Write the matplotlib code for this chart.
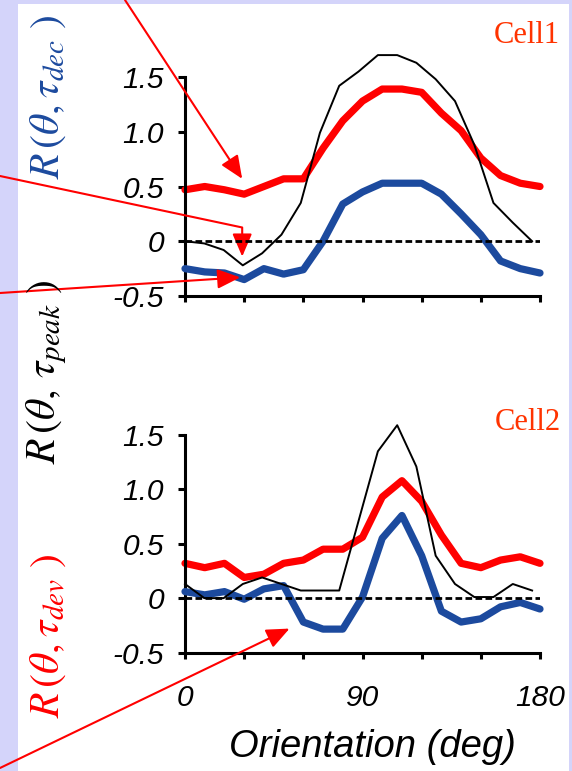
import matplotlib
matplotlib.use('Agg')
import matplotlib.pyplot as plt
from matplotlib.patches import Rectangle

# ---------------- data ----------------
orientation = [0, 10, 20, 30, 40, 50, 60, 70, 80, 90, 100, 110, 120, 130, 140, 150, 160, 170, 180]
# the thin black curve is drawn on a slightly compressed orientation grid
orientation_peak = [0, 9.8, 19.6, 29.3, 39.1, 48.9, 58.7, 68.4, 78.2, 88.0, 97.8,
                    107.6, 117.3, 127.1, 136.9, 146.7, 156.4, 166.2, 176.0]

cell1_dev = [0.47, 0.50, 0.47, 0.43, 0.50, 0.57, 0.57, 0.85, 1.10, 1.28, 1.39,
             1.39, 1.36, 1.17, 1.01, 0.76, 0.60, 0.53, 0.50]
cell1_dec = [-0.25, -0.28, -0.29, -0.35, -0.25, -0.30, -0.26, 0.00, 0.34, 0.45, 0.53,
             0.53, 0.53, 0.43, 0.25, 0.06, -0.18, -0.25, -0.29]
cell1_peak = [0.00, -0.02, -0.08, -0.22, -0.11, 0.06, 0.35, 0.99, 1.42, 1.55, 1.70,
              1.70, 1.63, 1.48, 1.28, 0.88, 0.35, 0.17, 0.00]

cell2_dev = [0.32, 0.28, 0.32, 0.19, 0.22, 0.32, 0.35, 0.45, 0.45, 0.56, 0.93,
             1.08, 0.89, 0.58, 0.32, 0.28, 0.35, 0.38, 0.32]
cell2_dec = [0.06, 0.03, 0.06, -0.01, 0.085, 0.115, -0.22, -0.285, -0.285, 0.01, 0.55,
             0.76, 0.39, -0.12, -0.22, -0.19, -0.08, -0.04, -0.10]
cell2_peak = [0.13, 0.00, 0.00, 0.13, 0.19, 0.13, 0.07, 0.07, 0.07, 0.71, 1.35,
              1.59, 1.21, 0.39, 0.13, 0.01, 0.01, 0.13, 0.07]

y_ticks = [-0.5, 0, 0.5, 1.0, 1.5]
y_tick_labels = ['-0.5', '0', '0.5', '1.0', '1.5']
x_ticks = [0, 30, 60, 90, 120, 150, 180]
x_tick_labels = ['0', '', '', '90', '', '', '180']
cell_names = ['Cell1', 'Cell2']

# ---------------- style ----------------
RED = '#ff0000'
BLUE = '#1c4a9e'
CELLCOL = '#ff3300'
BG = '#d4d4fa'

plt.rcParams['mathtext.fontset'] = 'stix'

W, H = 572, 771
fig = plt.figure(figsize=(W / 100, H / 100), dpi=100, facecolor=BG)
fig.patches.append(Rectangle((18 / W, 0), (569 - 18) / W, (H - 4) / H,
                             transform=fig.transFigure, facecolor='white',
                             edgecolor='none', zorder=-10))

ax1 = fig.add_axes([185 / W, (H - 296) / H, 355 / W, 219 / H])
ax2 = fig.add_axes([185 / W, (H - 652.5) / H, 355 / W, 217.5 / H])

tick_font = dict(family='Liberation Sans', style='italic', size=21.5)

panels = [(ax1, cell1_dev, cell1_dec, cell1_peak),
          (ax2, cell2_dev, cell2_dec, cell2_peak)]
for ax, dev, dec, peak in panels:
    ax.set_facecolor('none')
    ax.plot(orientation, dev, color=RED, lw=5.2, solid_capstyle='round',
            solid_joinstyle='round', clip_on=False, zorder=2)
    ax.plot(orientation, dec, color=BLUE, lw=5.2, solid_capstyle='round',
            solid_joinstyle='round', clip_on=False, zorder=3)
    ax.plot(orientation_peak, peak, color='black', lw=1.4, clip_on=False, zorder=4)
    ax.axhline(0, color='black', lw=2.0, ls=(0, (2.4, 1.2)), zorder=5)
    ax.set_xlim(0, 180)
    ax.set_ylim(-0.5, 1.5)
    for s in ['top', 'right']:
        ax.spines[s].set_visible(False)
    for s in ['left', 'bottom']:
        ax.spines[s].set_linewidth(2.2)
        ax.spines[s].set_capstyle('projecting')
    ax.set_yticks(y_ticks)
    ax.set_yticklabels(y_tick_labels, fontdict=tick_font)
    ax.set_xticks(x_ticks)
    ax.tick_params(axis='y', direction='out', length=5, width=2.2, pad=10)
    ax.tick_params(axis='x', direction='out', length=4, width=2.2, pad=19)

ax1.set_xticklabels([])
ax2.set_xticklabels(x_tick_labels, fontdict=tick_font)
ax2.set_xlabel('Orientation (deg)', family='Liberation Sans', style='italic', size=27.5)
ax2.xaxis.set_label_coords(0.527, -0.35)
ax2.xaxis.label.set_va('top')

# cell names
fig.text(560 / W, 1 - 43 / H, cell_names[0], family='Liberation Serif', size=22,
         color=CELLCOL, ha='right', va='baseline')
fig.text(561 / W, 1 - 430 / H, cell_names[1], family='Liberation Serif', size=22,
         color=CELLCOL, ha='right', va='baseline')

# rotated y labels
fig.text(47 / W, 1 - 97 / H, r'$R\,(\theta,\tau_{dec}\ )$', rotation=90,
         size=30, color=BLUE, ha='center', va='center')
fig.text(47 / W, 1 - 372 / H, r'$R\,(\theta,\,\tau_{peak}\ )$', rotation=90,
         size=30, color='black', ha='center', va='center')
fig.text(47 / W, 1 - 636 / H, r'$R\,(\theta,\tau_{dev}\ )$', rotation=90,
         size=30, color=RED, ha='center', va='center')

# red arrows
arrow = dict(arrowstyle='-|>,head_length=1.4,head_width=0.6', color=RED,
             lw=1.5, shrinkA=0, shrinkB=0)
ax1.annotate('', xy=(29, 0.57), xycoords='data', xytext=(125 / W, 1.0),
             textcoords='figure fraction', arrowprops=arrow, annotation_clip=False)
ax1.annotate('', xy=(29, -0.14), xycoords='data', xytext=(0.0, 1 - 176 / H),
             textcoords='figure fraction',
             arrowprops=dict(arrow, connectionstyle='angle,angleA=-12,angleB=90,rad=0'),
             annotation_clip=False)
ax1.annotate('', xy=(28, -0.33), xycoords='data', xytext=(0.0, 1 - 293 / H),
             textcoords='figure fraction', arrowprops=arrow, annotation_clip=False)
ax2.annotate('', xy=(53, -0.28), xycoords='data', xytext=(0.0, 1 - 768 / H),
             textcoords='figure fraction', arrowprops=arrow, annotation_clip=False)

fig.savefig('out.png', dpi=100, facecolor=BG)
